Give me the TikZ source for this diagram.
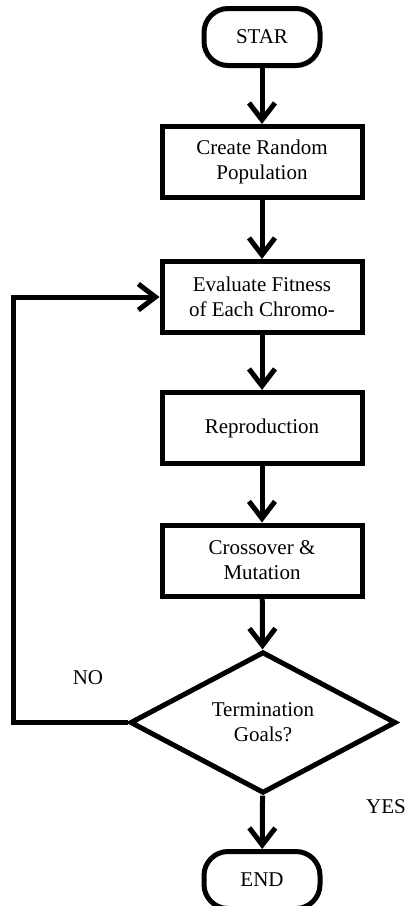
\documentclass[tikz,border=0pt]{standalone}
\usepackage{fontspec}
\setmainfont{Liberation Serif}
\usetikzlibrary{arrows.meta,shapes.geometric}
\begin{document}
\begin{tikzpicture}[x=1pt,y=-1pt,
  every node/.style={font=\fontsize{21}{25}\selectfont, align=center},
  box/.style={draw, line width=5pt, minimum width=200pt, minimum height=71pt, inner sep=0pt},
  term/.style={draw, line width=5pt, rounded corners=24pt, minimum width=116pt, minimum height=57pt, inner sep=0pt},
  dec/.style={draw, diamond, line width=5pt, minimum width=266pt, minimum height=134pt, inner sep=0pt},
  flow/.style={line width=5pt, -{Straight Barb[length=17pt,width=26pt]}}]
\useasboundingbox (0,0) rectangle (408,906);
\node[term] (start) at (262,37) {STAR};
\node[box] (b1) at (262,162) {Create Random\\Population};
\node[box] (b2) at (262,297) {Evaluate Fitness\\of Each Chromo-};
\node[box] (b3) at (262,428) {Reproduction};
\node[box] (b4) at (262,560.5) {Crossover \&\\Mutation};
\node[dec] (dec) at (263,722.5) {Termination\\Goals?};
\node[term] (end) at (262,880) {END};
\node (no) at (88,678) {NO};
\node (yes) at (386,807) {YES};
\coordinate (lp) at (13,722.5);
\draw[flow] (start) -- (b1);
\draw[flow] (b1) -- (b2);
\draw[flow] (b2) -- (b3);
\draw[flow] (b3) -- (b4);
\draw[flow] (b4) -- (dec);
\draw[flow] (dec) -- (end);
\draw[flow] (dec.west) -- (lp) |- (b2.west);
\end{tikzpicture}
\end{document}
